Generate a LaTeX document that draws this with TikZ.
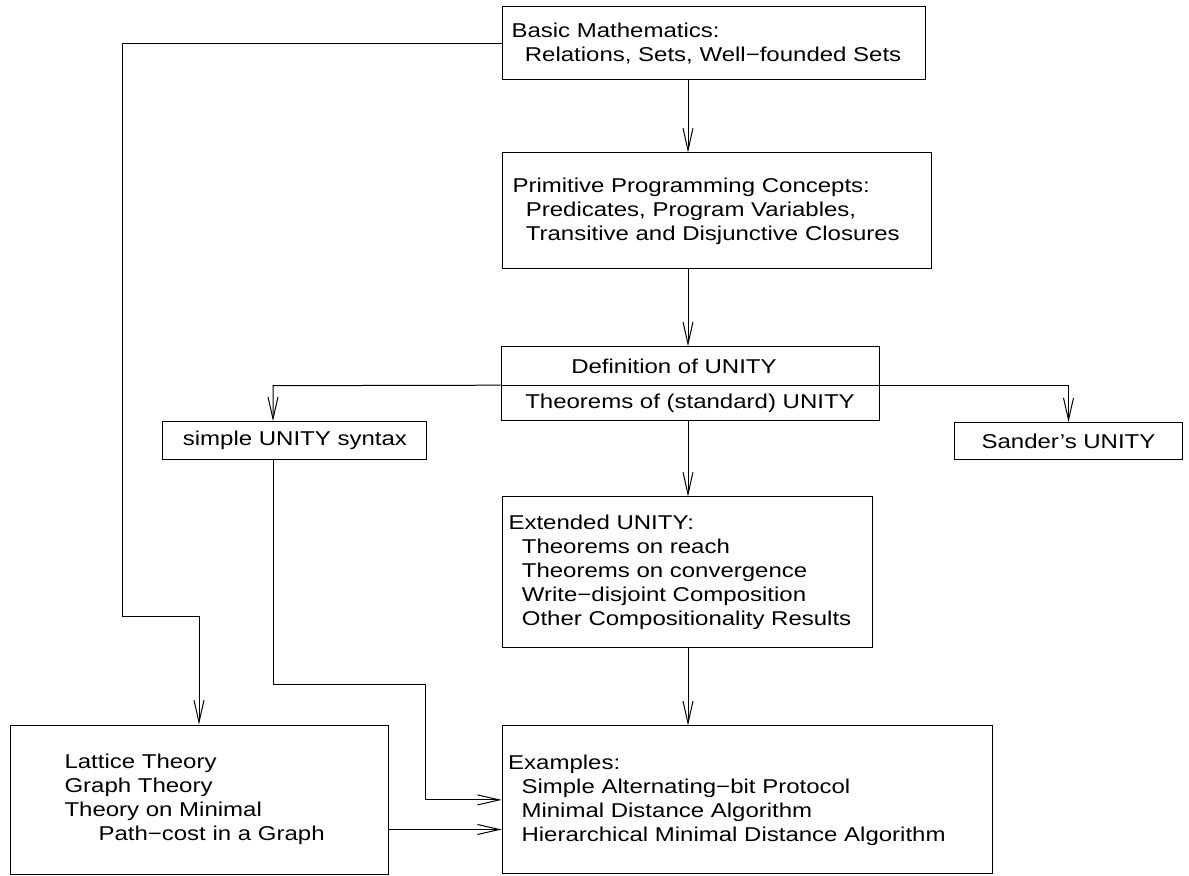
\documentclass[tikz,border=0pt]{standalone}
\usepackage{fontspec}
\setmainfont[FakeStretch=1.2]{Liberation Sans}
\usetikzlibrary{arrows.meta}

\begin{document}
\begin{tikzpicture}[
x=0.5pt, y=-0.5pt,
box/.style={draw, line width=0.5pt, inner ysep=0pt, align=left, font=\fontsize{10}{12}\selectfont},
arrow/.style={-{Straight Barb[length=11pt, width=5pt]}, line width=0.5pt}
]
\useasboundingbox (0,0) rectangle (1189,876);

% top chain
\node[box, minimum width=211.5pt, minimum height=36.5pt, text width=202pt, inner xsep=4.75pt] (basic) at (713.5,43.5)
  {Basic Mathematics:\\ \ \ Relations, Sets, Well−founded Sets};
\node[box, minimum width=214.5pt, minimum height=58pt, text width=204pt, inner xsep=5.25pt] (prim) at (716.5,211)
  {Primitive Programming Concepts:\\ \ \ Predicates, Program Variables,\\ \ \ Transitive and Disjunctive Closures};
\node[box, align=center, minimum width=189pt, minimum height=19.5pt] (defn) at (690,366.2)
  {Definition of UNITY\hspace*{16pt}};
\node[box, align=center, minimum width=189pt, minimum height=17.5pt] (thms) at (690,403.2)
  {Theorems of (standard) UNITY};
\node[box, align=center, minimum width=132pt, minimum height=18.7pt] (simple) at (294.9,440.4)
  {simple UNITY syntax};
\node[box, align=center, minimum width=114.2pt, minimum height=18.3pt] (sander) at (1068.5,441)
  {Sander's UNITY};
\node[box, minimum width=185pt, minimum height=75.5pt, text width=178.5pt, inner xsep=3.25pt] (ext) at (687,572.5)
  {Extended UNITY:\\ \ \ Theorems on reach\\ \ \ Theorems on convergence\\ \ \ Write−disjoint Composition\\ \ \ Other Compositionality Results};
\node[box, minimum width=245pt, minimum height=74pt, text width=239pt, inner xsep=3pt] (examples) at (747.2,799.9)
  {Examples:\\ \ \ Simple Alternating−bit Protocol\\ \ \ Minimal Distance Algorithm\\ \ \ Hierarchical Minimal Distance Algorithm};
\node[box, minimum width=189pt, minimum height=74.5pt, text width=134.5pt, inner xsep=27.25pt] (lattice) at (199,799.5)
  {Lattice Theory\\Graph Theory\\Theory on Minimal\\\hspace*{17pt}Path−cost in a Graph};

% bends
\coordinate (spine) at (688,0);
\coordinate (lbend) at (273,385.7);
\coordinate (sjog) at (425,685);
\coordinate (ljog) at (122,617);

\draw[arrow] (basic.south -| spine) -- (prim.north -| spine);
\draw[arrow] (prim.south -| spine) -- (defn.north -| spine);
\draw[arrow] (thms.south -| spine) -- (ext.north -| spine);
\draw[arrow] (ext.south -| spine) -- (examples.north -| spine);
\draw[arrow] (thms.north west) -- (lbend) -- (lbend |- simple.north);
\draw[arrow] (thms.north east) -| (sander.north);
\draw[arrow] (lbend |- simple.south) |- (sjog) |- (examples.west);
\draw[arrow] ([yshift=-15pt]lattice.east) -- ([yshift=-15pt]lattice.east -| examples.west);
\draw[arrow] (basic.west) -| (ljog) -| (lattice.north);
\end{tikzpicture}
\end{document}
